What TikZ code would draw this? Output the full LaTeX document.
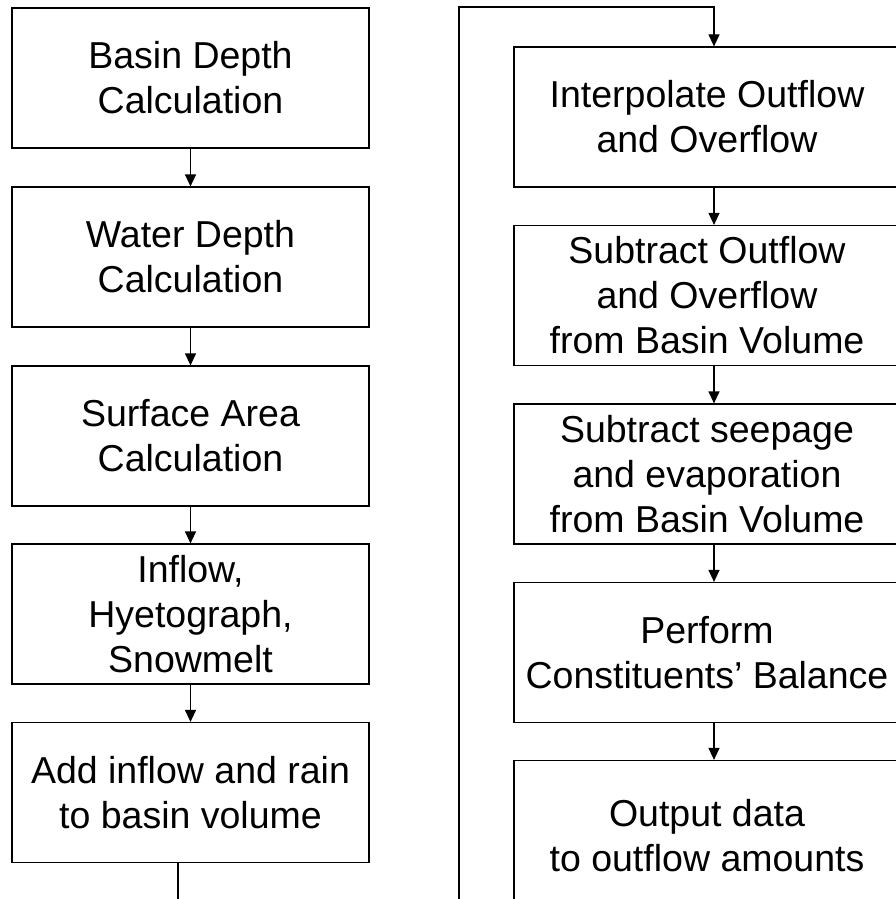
\documentclass[tikz,border=0pt]{standalone}
\usepackage{fontspec}
\setmainfont{Liberation Sans}
\usetikzlibrary{arrows.meta}
\begin{document}
\begin{tikzpicture}[x=1pt,y=-1pt,
  box/.style={draw, line width=1.2pt, align=center, inner sep=0pt,
    minimum height=140pt, font=\fontsize{37.5}{45}\selectfont},
  lbox/.style={box, minimum width=357pt},
  rbox/.style={box, minimum width=386pt},
  conn/.style={line width=1.2pt},
  arr/.style={conn, -{Triangle[length=12pt,width=11pt]}}]
\useasboundingbox (0,0) rectangle (896,899);
\clip (0,0) rectangle (896,899);
% left column
\node[lbox] (L1) at (190.5,78) {Basin Depth\\Calculation};
\node[lbox] (L2) at (190.5,257) {Water Depth\\Calculation};
\node[lbox] (L3) at (190.5,436) {Surface Area\\Calculation};
\node[lbox] (L4) at (190.5,614) {Inflow,\\Hyetograph,\\Snowmelt};
\node[lbox] (L5) at (190.5,792.5) {Add inflow and rain\\to basin volume};
% right column
\node[rbox] (R1) at (707,117) {Interpolate Outflow\\and Overflow};
\node[rbox] (R2) at (707,295.5) {Subtract Outflow\\and Overflow\\from Basin Volume};
\node[rbox] (R3) at (707,474) {Subtract seepage\\and evaporation\\from Basin Volume};
\node[rbox] (R4) at (707,652.5) {Perform\\Constituents’ Balance};
\node[rbox, minimum height=150pt] (R5) at (707,835.5) {Output data\\to outflow amounts};
% left arrows
\draw[arr] (L1) -- (L2);
\draw[arr] (L2) -- (L3);
\draw[arr] (L3) -- (L4);
\draw[arr] (L4) -- (L5);
% continuation lines
\coordinate (lend) at (178,910);
\draw[conn] (L5.south -| lend) -- (lend);
\coordinate (rbot) at (459,910);
\coordinate (rtop) at (459,7);
\coordinate (rx) at (714,7);
\draw[arr] (rbot) -- (rtop) -- (rx) -- (R1.north -| rx);
% right arrows
\coordinate (ax) at (714,0);
\draw[arr] (R1.south -| ax) -- (R2.north -| ax);
\draw[arr] (R2.south -| ax) -- (R3.north -| ax);
\draw[arr] (R3.south -| ax) -- (R4.north -| ax);
\draw[arr] (R4.south -| ax) -- (R5.north -| ax);
\end{tikzpicture}
\end{document}
